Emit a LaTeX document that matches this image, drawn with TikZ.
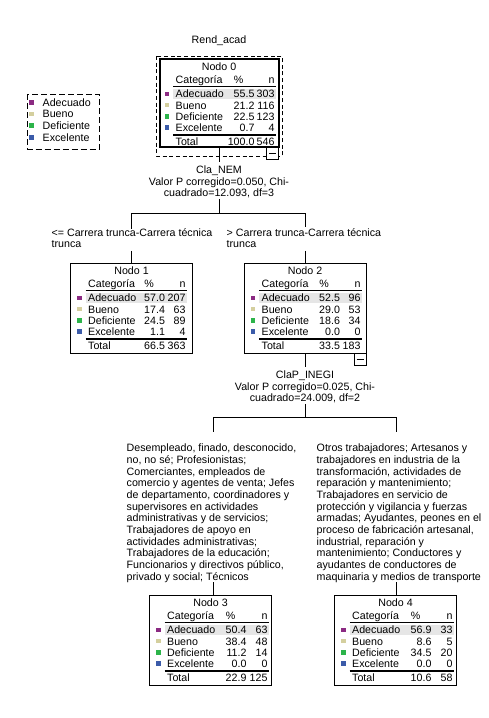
\documentclass[tikz,border=0pt]{standalone}
\usepackage{fontspec}
\setmainfont{Liberation Sans}
\definecolor{cAde}{RGB}{139,42,130}
\definecolor{cBue}{RGB}{212,207,158}
\definecolor{cDef}{RGB}{44,180,74}
\definecolor{cExc}{RGB}{59,91,169}
\definecolor{cBand}{RGB}{230,230,230}
\tikzset{
 every node/.style={font=\fontsize{8}{8.5}\selectfont, inner sep=0pt, outer sep=0pt},
 conn/.style={draw=black, line width=0.75pt},
 tbox/.style={draw=black, fill=white, line width=0.75pt, minimum width=91.5pt, minimum height=67.5pt},
 hline/.style={line width=0.75pt},
 tline/.style={line width=1.5pt},
 band/.style={fill=cBand},
 lbl/.style={align=center},
 br/.style={align=left},
 brtext/.style={align=left, font=\fontsize{8}{8.75}\selectfont},
 minusbox/.style={draw=black, fill=white, line width=0.75pt},
}
% header of a node table: #1 prefix, #2 number
\newcommand{\tkhead}[2]{%
  \fill[band] (-46,30) rectangle (\nx+1.5,40);
  \draw[hline] (-46,27) -- (\nx+1.5,27);
  \draw[tline] (-46,75.5) -- (\nx+1.5,75.5);
  \node[anchor=base] (#1t) at (0,11.8) {Nodo #2};
  \node[anchor=base west] (#1c) at (-43.3,24.3) {Categoría};
  \node[anchor=base] (#1pc) at (\pctx-16,24.3) {\%};
  \node[anchor=base east] (#1nc) at (\nx,24.3) {n};
}
% row: #1 prefix, #2 y, #3 colour, #4 label, #5 pct, #6 n
\newcommand{\tkrow}[6]{%
  \fill[#3] (-54.25,#2-2.25) rectangle (-49.75,#2+2.25);
  \node[anchor=base west] (#1l) at (-43.3,#2+3.8) {#4};
  \node[anchor=base east] (#1p) at (\pctx,#2+3.8) {#5};
  \node[anchor=base east] (#1n) at (\nx,#2+3.8) {#6};
}
\newcommand{\tktotal}[3]{%
  \node[anchor=base west] (#1tl) at (-43.3,86.3) {Total};
  \node[anchor=base east] (#1tp) at (\pctx,86.3) {#2};
  \node[anchor=base east] (#1tn) at (\nx,86.3) {#3};
}
\begin{document}
\begin{tikzpicture}[x=0.75pt,y=-0.75pt]
\path[use as bounding box, fill=white] (0,0) rectangle (489,718);

\node[anchor=base] (title) at (219,43.8) {Rend\_acad};

% legend
\draw[dash pattern=on 4.5pt off 2.25pt, line width=0.75pt] (27.3,94.3) rectangle (99.3,149);
\fill[cAde] (29.3,100.25) rectangle ++(4.5,4.5);
\node[anchor=base west] (lg1) at (42.7,106.3) {Adecuado};
\fill[cBue] (29.3,111.75) rectangle ++(4.5,4.5);
\node[anchor=base west] (lg2) at (42.7,117.8) {Bueno};
\fill[cDef] (29.3,123.45) rectangle ++(4.5,4.5);
\node[anchor=base west] (lg3) at (42.7,129.5) {Deficiente};
\fill[cExc] (29.3,135.05) rectangle ++(4.5,4.5);
\node[anchor=base west] (lg4) at (42.7,141.1) {Excelente};

% Node 0
\draw[dash pattern=on 3pt off 2pt, line width=0.75pt] (156,56) rectangle (282,156);
\begin{scope}[shift={(219,59)}]
\def\pctx{35.5}\def\nx{55.5}
\node[tbox, line width=1.5pt, minimum width=89.25pt, minimum height=66pt] (node0) at (0,44) {};
\tkhead{n0}{0}
\tkrow{n0a}{35}{cAde}{Adecuado}{55.5}{303}
\tkrow{n0b}{46.2}{cBue}{Bueno}{21.2}{116}
\tkrow{n0c}{57.4}{cDef}{Deficiente}{22.5}{123}
\tkrow{n0d}{68.6}{cExc}{Excelente}{0.7}{4}
\tktotal{n0}{100.0}{546}
\end{scope}
\draw[minusbox] (266.5,147) rectangle (278.5,159);
\draw[line width=0.75pt] (269,153) -- (276,153);

\node[lbl, anchor=north] (cla) at (219,166) {Cla\_NEM\\Valor P corregido=0.050, Chi-\\cuadrado=12.093, df=3};
\draw[conn, shorten >=3pt] (node0.south) -- (cla.north);
\coordinate (s1) at (219,213.3);
\coordinate (b1l) at (131.5,213.3);
\coordinate (b1r) at (305,213.3);
\draw[conn, shorten <=0.75pt] (cla.south) -- (s1);
\draw[conn] (b1l) -- (b1r);

\node[br, anchor=north west] (lab1) at (51.7,228.7) {<= Carrera trunca-Carrera técnica\\trunca};
\node[br, anchor=north west] (lab2) at (226.7,228.7) {> Carrera trunca-Carrera técnica\\trunca};

% Node 1
\begin{scope}[shift={(131.5,263)}]
\def\pctx{33.5}\def\nx{54}
\node[tbox] (node1) at (0,45) {};
\tkhead{n1}{1}
\tkrow{n1a}{35}{cAde}{Adecuado}{57.0}{207}
\tkrow{n1b}{46.2}{cBue}{Bueno}{17.4}{63}
\tkrow{n1c}{57.4}{cDef}{Deficiente}{24.5}{89}
\tkrow{n1d}{68.6}{cExc}{Excelente}{1.1}{4}
\tktotal{n1}{66.5}{363}
\end{scope}

% Node 2
\begin{scope}[shift={(305,263)}]
\def\pctx{35}\def\nx{55.5}
\node[tbox] (node2) at (0,45) {};
\tkhead{n2}{2}
\tkrow{n2a}{35}{cAde}{Adecuado}{52.5}{96}
\tkrow{n2b}{46.2}{cBue}{Bueno}{29.0}{53}
\tkrow{n2c}{57.4}{cDef}{Deficiente}{18.6}{34}
\tkrow{n2d}{68.6}{cExc}{Excelente}{0.0}{0}
\tktotal{n2}{33.5}{183}
\end{scope}
\draw[minusbox] (354,353) rectangle (366,365);
\draw[line width=0.75pt] (356.5,359) -- (363.5,359);

\draw[conn] (b1l) -- (b1l |- lab1.north);
\draw[conn, shorten <=2.25pt] (b1l |- lab1.south) -- (node1.north);
\draw[conn, shorten >=1.5pt] (b1r) -- (b1r |- lab2.north);
\draw[conn, shorten <=2.25pt] (b1r |- lab2.south) -- (node2.north);

\node[lbl, anchor=north] (clap) at (305,371) {ClaP\_INEGI\\Valor P corregido=0.025, Chi-\\cuadrado=24.009, df=2};
\draw[conn, shorten >=3pt] (node2.south) -- (clap.north);
\coordinate (s2) at (305,417.3);
\coordinate (b2l) at (213.3,417.3);
\coordinate (b2r) at (396.7,417.3);
\draw[conn, shorten <=0.75pt] (clap.south) -- (s2);
\draw[conn] (b2l) -- (b2r);

\node[brtext, anchor=north west] (lab3) at (126.7,444) {Desempleado, finado, desconocido,\\
no, no sé; Profesionistas;\\
Comerciantes, empleados de\\
comercio y agentes de venta; Jefes\\
de departamento, coordinadores y\\
supervisores en actividades\\
administrativas y de servicios;\\
Trabajadores de apoyo en\\
actividades administrativas;\\
Trabajadores de la educación;\\
Funcionarios y directivos público,\\
privado y social; Técnicos};
\node[brtext, anchor=north west] (lab4) at (316.7,444) {Otros trabajadores; Artesanos y\\
trabajadores en industria de la\\
transformación, actividades de\\
reparación y mantenimiento;\\
Trabajadores en servicio de\\
protección y vigilancia y fuerzas\\
armadas; Ayudantes, peones en el\\
proceso de fabricación artesanal,\\
industrial, reparación y\\
mantenimiento; Conductores y\\
ayudantes de conductores de\\
maquinaria y medios de transporte};

% Node 3
\begin{scope}[shift={(210.5,595)}]
\def\pctx{36}\def\nx{57}
\node[tbox] (node3) at (0,45) {};
\tkhead{n3}{3}
\tkrow{n3a}{35}{cAde}{Adecuado}{50.4}{63}
\tkrow{n3b}{46.2}{cBue}{Bueno}{38.4}{48}
\tkrow{n3c}{57.4}{cDef}{Deficiente}{11.2}{14}
\tkrow{n3d}{68.6}{cExc}{Excelente}{0.0}{0}
\tktotal{n3}{22.9}{125}
\end{scope}

% Node 4
\begin{scope}[shift={(395.5,595)}]
\def\pctx{36}\def\nx{57}
\node[tbox] (node4) at (0,45) {};
\tkhead{n4}{4}
\tkrow{n4a}{35}{cAde}{Adecuado}{56.9}{33}
\tkrow{n4b}{46.2}{cBue}{Bueno}{8.6}{5}
\tkrow{n4c}{57.4}{cDef}{Deficiente}{34.5}{20}
\tkrow{n4d}{68.6}{cExc}{Excelente}{0.0}{0}
\tktotal{n4}{10.6}{58}
\end{scope}

\draw[conn, shorten >=9pt] (b2l) -- (b2l |- lab3.north);
\draw[conn] (b2l |- lab3.south) -- (b2l |- node3.north);
\draw[conn, shorten >=9pt] (b2r) -- (b2r |- lab4.north);
\draw[conn] (b2r |- lab4.south) -- (b2r |- node4.north);
\end{tikzpicture}
\end{document}
